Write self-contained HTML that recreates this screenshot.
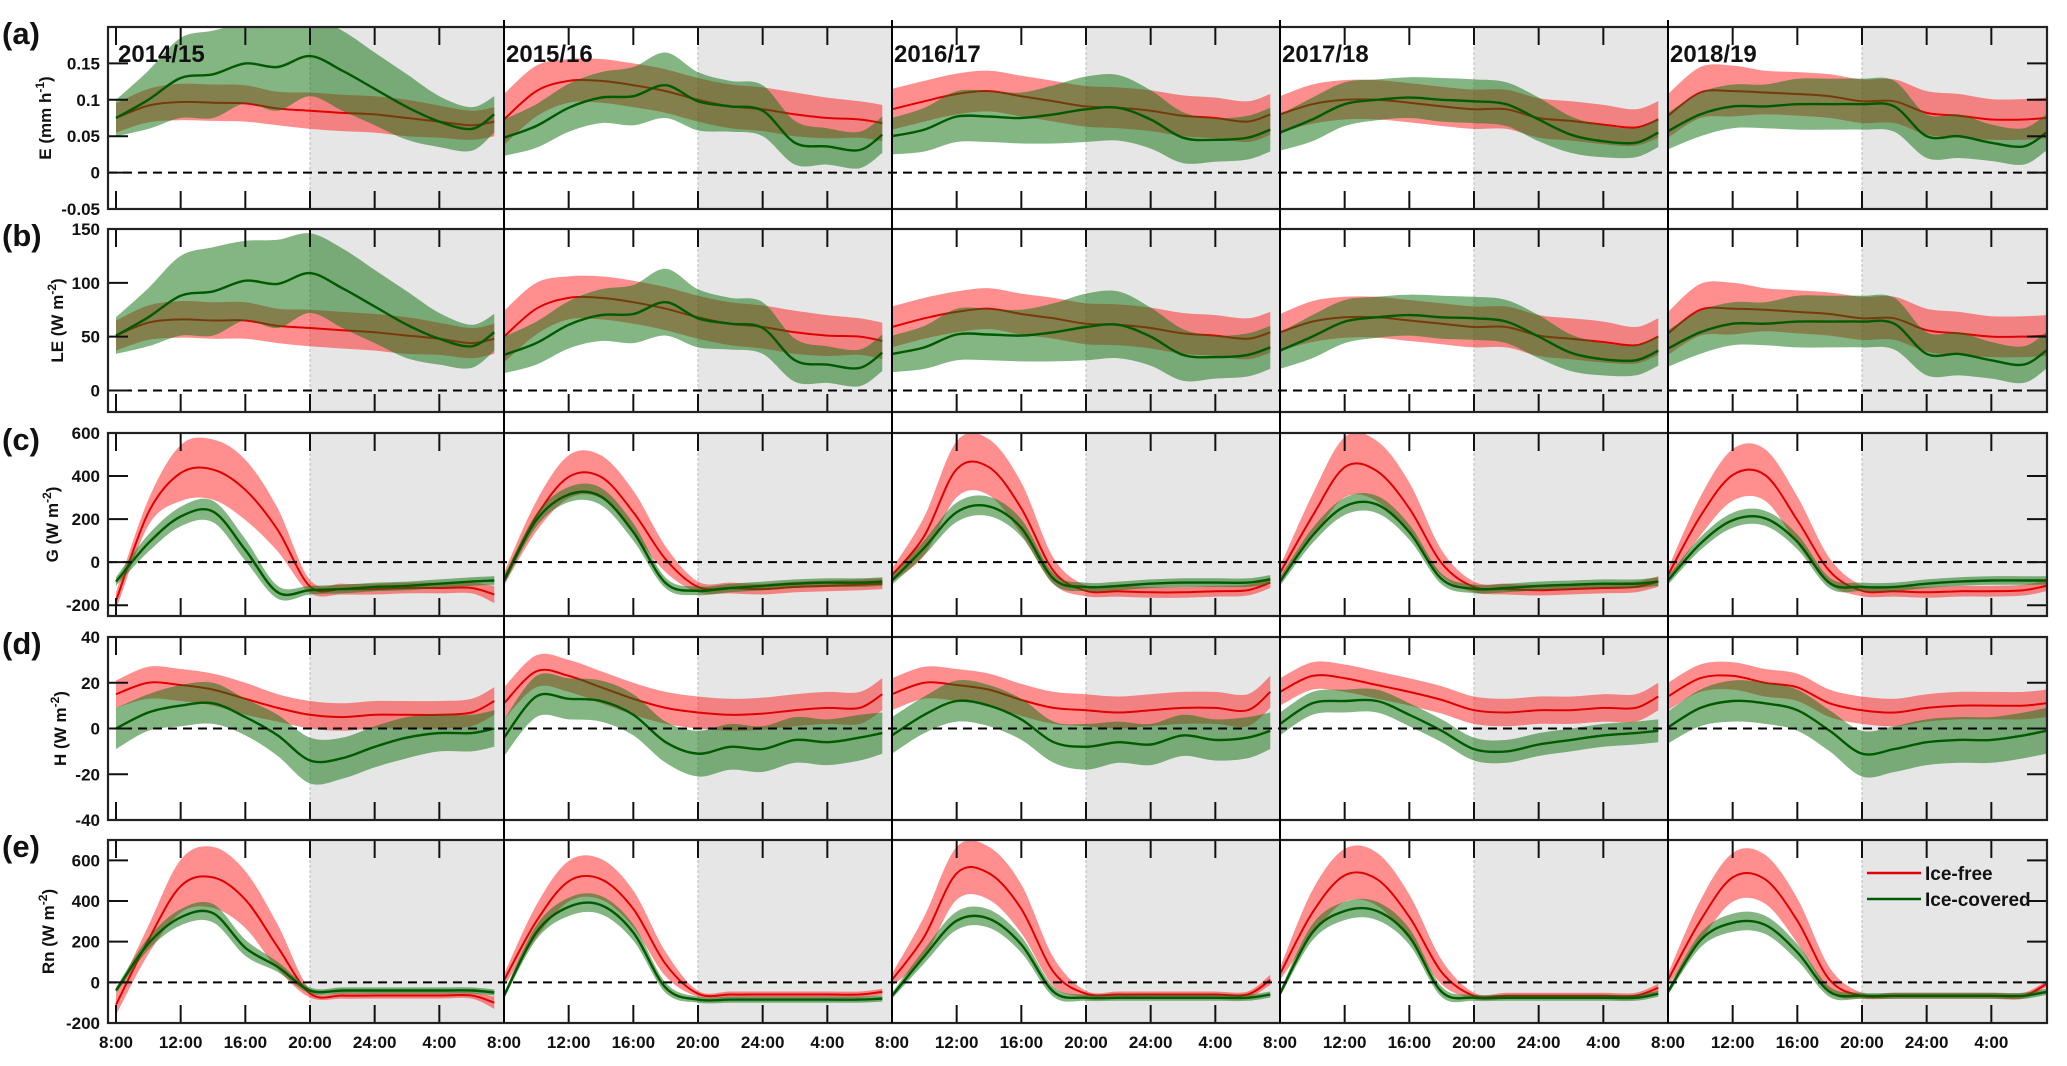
<!DOCTYPE html>
<html><head><meta charset="utf-8"><style>
html,body{margin:0;padding:0;background:#fff;}
svg{display:block;font-family:"Liberation Sans",Arial,sans-serif;font-weight:bold;}
</style></head><body>
<svg id="fig" width="2067" height="1066" viewBox="0 0 2067 1066" xmlns="http://www.w3.org/2000/svg"></svg>
<script>
// time offsets (hours after 8:00) of each sample within a season
const hours = [0,2,4,6,8,10,12,14,16,18,20,22,23.4];
const seasons = ["2014/15","2015/16","2016/17","2017/18","2018/19"];
const xTickLabels = ["8:00","12:00","16:00","20:00","24:00","4:00"];

// (a) E (mm h-1)
const eFreeMean = [[0.075,0.092,0.097,0.096,0.095,0.088,0.085,0.082,0.08,0.075,0.07,0.065,0.07],[0.073,0.112,0.126,0.126,0.12,0.112,0.1,0.091,0.087,0.08,0.075,0.073,0.068],[0.087,0.098,0.108,0.112,0.105,0.098,0.091,0.089,0.085,0.078,0.075,0.07,0.08],[0.08,0.094,0.1,0.1,0.096,0.091,0.087,0.087,0.075,0.071,0.066,0.062,0.073],[0.078,0.11,0.112,0.11,0.108,0.105,0.098,0.098,0.082,0.078,0.073,0.073,0.075]];
const eFreeSd = [[0.02,0.023,0.025,0.025,0.025,0.023,0.025,0.025,0.025,0.025,0.022,0.02,0.02],[0.035,0.035,0.03,0.03,0.03,0.03,0.03,0.03,0.03,0.03,0.028,0.025,0.025],[0.028,0.028,0.028,0.028,0.028,0.028,0.028,0.028,0.028,0.028,0.028,0.028,0.028],[0.025,0.027,0.027,0.027,0.027,0.027,0.027,0.027,0.027,0.027,0.027,0.025,0.025],[0.03,0.035,0.035,0.03,0.03,0.03,0.03,0.03,0.03,0.03,0.028,0.028,0.028]];
const eIceMean = [[0.075,0.1,0.13,0.135,0.15,0.145,0.16,0.14,0.115,0.09,0.07,0.06,0.08],[0.048,0.064,0.089,0.103,0.105,0.12,0.098,0.091,0.085,0.041,0.036,0.031,0.052],[0.05,0.059,0.077,0.077,0.075,0.08,0.087,0.089,0.073,0.048,0.045,0.048,0.059],[0.055,0.073,0.094,0.1,0.103,0.1,0.098,0.094,0.073,0.052,0.043,0.041,0.055],[0.057,0.08,0.091,0.091,0.094,0.094,0.094,0.091,0.05,0.05,0.041,0.036,0.055]];
const eIceSd = [[0.025,0.04,0.055,0.06,0.055,0.06,0.055,0.055,0.05,0.045,0.035,0.03,0.025],[0.025,0.03,0.033,0.035,0.04,0.045,0.04,0.035,0.035,0.03,0.025,0.025,0.025],[0.025,0.03,0.035,0.035,0.035,0.04,0.045,0.045,0.04,0.035,0.03,0.03,0.03],[0.025,0.03,0.03,0.028,0.028,0.03,0.03,0.03,0.03,0.025,0.022,0.02,0.02],[0.025,0.03,0.03,0.03,0.035,0.035,0.035,0.035,0.03,0.03,0.025,0.025,0.025]];

// (b) LE (W m-2)
const leFreeMean = [[51,63,66,65,65,60,58,56,54,51,48,44,48],[50,76,86,86,82,76,68,62,59,54,51,50,46],[59,67,73,76,71,67,62,61,58,53,51,48,54],[54,64,68,68,65,62,59,59,51,48,45,42,50],[53,75,76,75,73,71,67,67,56,53,50,50,51]];
const leFreeSd = [[14,16,17,17,17,16,17,17,17,17,15,14,14],[24,24,20,20,20,20,20,20,20,20,19,17,17],[19,19,19,19,19,19,19,19,19,19,19,19,19],[17,19,19,19,19,19,19,19,19,19,19,17,17],[20,24,24,20,20,20,20,20,20,20,19,19,19]];
const leIceMean = [[51,68,88,92,102,99,109,95,78,61,48,41,54],[33,44,61,70,71,82,67,62,58,28,24,21,35],[34,40,52,52,51,54,59,61,50,33,31,33,40],[37,50,64,68,70,68,67,64,50,35,29,28,37],[39,54,62,62,64,64,64,62,34,34,28,24,37]];
const leIceSd = [[17,27,37,41,37,41,37,37,34,31,24,20,17],[17,20,22,24,27,31,27,24,24,20,17,17,17],[17,20,24,24,24,27,31,31,27,24,20,20,20],[17,20,20,19,19,20,20,20,20,17,15,14,14],[17,20,20,20,24,24,24,24,20,20,17,17,17]];

// (c) G (W m-2)
const gFreeMean = [[-180,230,414,430,336,150,-113,-125,-125,-120,-120,-120,-150],[-78,213,396,396,232,13,-115,-120,-125,-115,-110,-105,-100],[-60,122,432,441,250,-42,-133,-135,-140,-140,-135,-130,-95],[-50,213,441,423,250,-5,-115,-125,-130,-125,-120,-115,-90],[-60,213,405,405,195,-42,-133,-135,-140,-135,-135,-130,-110]];
const gFreeSd = [[40,60,130,140,140,100,30,25,25,25,25,25,40],[30,70,100,100,100,60,25,25,25,25,25,25,25],[30,90,130,130,120,60,25,25,25,25,25,25,25],[30,100,140,140,120,60,25,25,25,25,25,25,25],[30,90,120,120,110,60,25,25,25,25,25,25,25]];
const gIceMean = [[-90,88,212,235,57,-140,-130,-125,-115,-110,-100,-90,-85],[-85,195,314,305,140,-97,-133,-120,-110,-100,-95,-95,-90],[-85,67,232,259,159,-78,-115,-110,-100,-95,-95,-95,-80],[-90,122,259,268,140,-78,-124,-120,-110,-105,-100,-100,-90],[-85,86,195,204,95,-97,-115,-115,-100,-90,-85,-85,-85]];
const gIceSd = [[20,40,45,50,50,30,20,20,20,20,20,20,20],[20,30,35,40,40,25,20,20,20,20,20,20,20],[20,35,45,45,40,25,20,20,20,20,20,20,20],[20,35,40,40,35,25,20,20,20,20,20,20,20],[20,30,35,35,35,25,20,20,20,20,20,20,20]];

// (d) H (W m-2)
const hFreeMean = [[15,20,19,17,13,9,6,5,6,6,6,7,12],[11,25,23,18,13,9,7,6,6.5,8,9,9,15],[15,20,19,17,12.5,9,8,7,8,9,9,8,16],[16,23,22,19,16,12.5,8,7,8,8,9,9,14],[14,22,23,20,18,11,8,7,9,10,10,10,11]];
const hFreeSd = [[6,7,7,7,7,6,6,6,6,6,6,6,6],[7,7,7,7,7,7,7,7,7,7,7,7,7],[7,7,7,7,7,7,7,7,7,7,7,7,7],[6,6,6,6,6,6,6,6,6,6,6,6,6],[6,6,6,6,6,6,6,6,6,6,6,6,6]];
const hIceMean = [[0,7,10,11,5,-3,-14,-13,-8,-4,-2,-2,0],[-4,14,13,12,6,-6,-11,-8,-9,-5,-6,-4,-2],[-3,6,12,10,4,-6,-8,-6,-7,-3,-5,-4,-1],[2,11,12,12,6,-1,-9,-10,-7,-5,-3,-2,-1],[0.5,9,12,11,8,-1,-11,-9,-6,-5,-5,-3,-1]];
const hIceSd = [[9,8,9,9,8,9,10,9,9,9,8,8,8],[8,9,9,9,9,9,10,10,10,10,10,10,9],[8,8,9,9,9,9,10,9,9,9,9,9,8],[5,5,5,5,5,5,5,5,5,5,5,5,5],[7,8,9,9,9,9,10,10,10,10,10,10,10]];

// (e) Rn (W m-2)
const rnFreeMean = [[-110,208,473,516,407,174,-55,-65,-65,-65,-65,-65,-100],[10,300,497,507,361,89,-56,-60,-60,-60,-60,-60,-47],[12,225,536,536,361,50,-56,-60,-60,-60,-60,-60,12],[41,342,526,507,322,50,-66,-66,-66,-66,-66,-66,-27],[12,303,516,507,303,12,-66,-66,-66,-66,-66,-66,-8]];
const rnFreeSd = [[50,70,130,150,140,110,20,15,15,15,15,15,30],[30,80,100,100,90,60,15,15,15,15,15,15,15],[30,100,130,130,120,70,15,15,15,15,15,15,25],[30,110,130,130,110,60,15,15,15,15,15,15,20],[30,100,120,120,110,60,15,15,15,15,15,15,15]];
const rnIceMean = [[-40,190,320,340,170,76,-40,-40,-40,-40,-40,-40,-50],[-66,245,371,380,245,-27,-85,-85,-85,-85,-85,-85,-80],[-66,128,303,313,186,-47,-76,-76,-76,-76,-76,-76,-60],[-56,245,351,351,225,-47,-76,-76,-76,-76,-76,-76,-56],[-47,206,293,283,148,-47,-66,-66,-66,-66,-66,-66,-47]];
const rnIceSd = [[15,30,40,45,40,25,15,15,15,15,15,15,15],[15,35,45,45,40,25,15,15,15,15,15,15,15],[15,35,45,45,40,25,15,15,15,15,15,15,15],[15,40,45,45,40,25,15,15,15,15,15,15,15],[15,35,45,45,40,25,15,15,15,15,15,15,15]];

const NS = "http://www.w3.org/2000/svg";
const svg = document.getElementById("fig");
const X0 = 108, X1 = 2047, T0 = 116, SEG = 388, PXH = SEG / 24;
function xOf(season, h) { return T0 + SEG * season + PXH * h; }
function mk(tag, attrs, parent) {
  const el = document.createElementNS(NS, tag);
  for (const k in attrs) el.setAttribute(k, attrs[k]);
  (parent || svg).appendChild(el);
  return el;
}
// Catmull-Rom smoothed path segment through points (no initial M)
function smooth(pts) {
  let d = "";
  for (let i = 0; i < pts.length - 1; i++) {
    const p0 = pts[Math.max(0, i - 1)], p1 = pts[i], p2 = pts[i + 1], p3 = pts[Math.min(pts.length - 1, i + 2)];
    const c1x = p1[0] + (p2[0] - p0[0]) / 6, c1y = p1[1] + (p2[1] - p0[1]) / 6;
    const c2x = p2[0] - (p3[0] - p1[0]) / 6, c2y = p2[1] - (p3[1] - p1[1]) / 6;
    d += "C" + c1x.toFixed(1) + "," + c1y.toFixed(1) + " " + c2x.toFixed(1) + "," + c2y.toFixed(1) + " " + p2[0].toFixed(1) + "," + p2[1].toFixed(1);
  }
  return d;
}

const panels = [
  {id:"e", letter:"(a)", top:27, bot:209, min:-0.05, max:0.2, ticks:[-0.05,0,0.05,0.1,0.15], tickLabels:["-0.05","0","0.05","0.1","0.15"], title:["E (mm h","-1",")"], titleX:45, fm:eFreeMean, fs:eFreeSd, im:eIceMean, is:eIceSd},
  {id:"le", letter:"(b)", top:229, bot:412, min:-20, max:150, ticks:[0,50,100,150], tickLabels:["0","50","100","150"], title:["LE (W m","-2",")"], titleX:57, fm:leFreeMean, fs:leFreeSd, im:leIceMean, is:leIceSd},
  {id:"g", letter:"(c)", top:433, bot:616, min:-250, max:600, ticks:[-200,0,200,400,600], tickLabels:["-200","0","200","400","600"], title:["G (W m","-2",")"], titleX:52, fm:gFreeMean, fs:gFreeSd, im:gIceMean, is:gIceSd},
  {id:"h", letter:"(d)", top:637, bot:820, min:-40, max:40, ticks:[-40,-20,0,20,40], tickLabels:["-40","-20","0","20","40"], title:["H (W m","-2",")"], titleX:60, fm:hFreeMean, fs:hFreeSd, im:hIceMean, is:hIceSd},
  {id:"rn", letter:"(e)", top:840, bot:1023, min:-200, max:700, ticks:[-200,0,200,400,600], tickLabels:["-200","0","200","400","600"], title:["Rn (W m","-2",")"], titleX:48, fm:rnFreeMean, fs:rnFreeSd, im:rnIceMean, is:rnIceSd}
];

panels.forEach((p, pi) => {
  const yOf = v => p.bot - (v - p.min) / (p.max - p.min) * (p.bot - p.top);
  const g = mk("g", {});
  
  
  const clipId = "clip" + pi;
  const cp = mk("clipPath", {id: clipId}, g);
  mk("rect", {x: X0, y: p.top, width: X1 - X0, height: p.bot - p.top}, cp);

  seasons.forEach((s, si) => {
    const xa = xOf(si, 12), xb = Math.min(xOf(si + 1, 0), X1);
    const r = mk("rect", {x: xa, y: p.top, width: xb - xa, height: p.bot - p.top, fill: "#e6e6e6"}, g);
    
    
    mk("line", {x1: xa, x2: xa, y1: p.top, y2: p.bot, stroke: "#bbb", "stroke-width": 1, "stroke-dasharray": "3 2"}, g);
  });

  const plot = mk("g", {"clip-path": "url(#" + clipId + ")"}, g);
  function band(means, sds, fill, name) {
    means.forEach((m, si) => {
      const up = hours.map((h, k) => [xOf(si, h), yOf(m[k] + sds[si][k])]);
      const lo = hours.map((h, k) => [xOf(si, h), yOf(m[k] - sds[si][k])]).reverse();
      const d = "M" + up[0][0].toFixed(1) + "," + up[0][1].toFixed(1) + smooth(up) +
        "L" + lo[0][0].toFixed(1) + "," + lo[0][1].toFixed(1) + smooth(lo) + "Z";
      const path = mk("path", {d: d, fill: fill}, plot);
      
      
    });
  }
  function line(means, stroke, w, name) {
    means.forEach((m, si) => {
      const pts = hours.map((h, k) => [xOf(si, h), yOf(m[k])]);
      const d = "M" + pts[0][0].toFixed(1) + "," + pts[0][1].toFixed(1) + smooth(pts);
      const path = mk("path", {d: d, fill: "none", stroke: stroke, "stroke-width": w, "stroke-linejoin": "round"}, plot);
      
      
    });
  }
  band(p.fm, p.fs, "rgba(255,20,20,0.48)", "ice-free");
  line(p.fm, "#e00000", 2, "ice-free");
  band(p.im, p.is, "rgba(20,115,20,0.52)", "ice-covered");
  line(p.im, "#005a00", 2.4, "ice-covered");

  const z = mk("line", {x1: X0, x2: X1, y1: yOf(0), y2: yOf(0), stroke: "#000", "stroke-width": 2, "stroke-dasharray": "9 6"}, g);
  
  

  seasons.forEach((s, si) => {
    for (let k = 0; k < 6; k++) {
      const x = xOf(si, k * 4);
      mk("line", {x1: x, x2: x, y1: p.top, y2: p.top + 18, stroke: "#111", "stroke-width": 2}, g);
      mk("line", {x1: x, x2: x, y1: p.bot, y2: p.bot - 18, stroke: "#111", "stroke-width": 2}, g);
    }
  });
  p.ticks.forEach((v, k) => {
    const y = yOf(v);
    mk("line", {x1: X0, x2: X0 + 20, y1: y, y2: y, stroke: "#111", "stroke-width": 2}, g);
    mk("line", {x1: X1, x2: X1 - 20, y1: y, y2: y, stroke: "#111", "stroke-width": 2}, g);
    const t = mk("text", {x: 100, y: y + 6, "text-anchor": "end", "font-size": 17, fill: "#111"}, g);
    t.textContent = p.tickLabels[k];
    
    
  });
  const fr = mk("rect", {x: X0, y: p.top, width: X1 - X0, height: p.bot - p.top, fill: "none", stroke: "#222", "stroke-width": 2.2}, g);
  
  

  const lt = mk("text", {x: 2, y: p.top + 17, "font-size": 31, fill: "#111"}, g);
  lt.textContent = p.letter;
  
  

  const cy = (p.top + p.bot) / 2;
  const tt = mk("text", {x: 0, y: 0, "font-size": 17, fill: "#111", "text-anchor": "middle", transform: "translate(" + (p.titleX + 6) + "," + cy + ") rotate(-90)"}, g);
  
  
  const t1 = mk("tspan", {}, tt); t1.textContent = p.title[0];
  const t2 = mk("tspan", {dy: -7, "font-size": 12}, tt); t2.textContent = p.title[1];
  const t3 = mk("tspan", {dy: 7}, tt); t3.textContent = p.title[2];
});

for (let si = 1; si < seasons.length; si++) {
  const x = xOf(si, 0);
  const l = mk("line", {x1: x, x2: x, y1: 20, y2: 1023, stroke: "#000", "stroke-width": 2});
  
  
}
seasons.forEach((s, si) => {
  const t = mk("text", {x: xOf(si, 0) + 2, y: 62, "font-size": 24, fill: "#111"});
  t.textContent = s;
  
  
});
seasons.forEach((s, si) => {
  xTickLabels.forEach((lab, k) => {
    const t = mk("text", {x: xOf(si, k * 4), y: 1048, "font-size": 17, "text-anchor": "middle", fill: "#111"});
    t.textContent = lab;
    
    
  });
});
const leg = mk("g", {});


[["Ice-free", "#e00000", 873], ["Ice-covered", "#005a00", 899]].forEach(e => {
  mk("line", {x1: 1867, x2: 1921, y1: e[2], y2: e[2], stroke: e[1], "stroke-width": 2.4}, leg);
  const t = mk("text", {x: 1925, y: e[2] + 7, "font-size": 19, fill: "#111"}, leg);
  t.textContent = e[0];
  
  
});
</script>
</body></html>
